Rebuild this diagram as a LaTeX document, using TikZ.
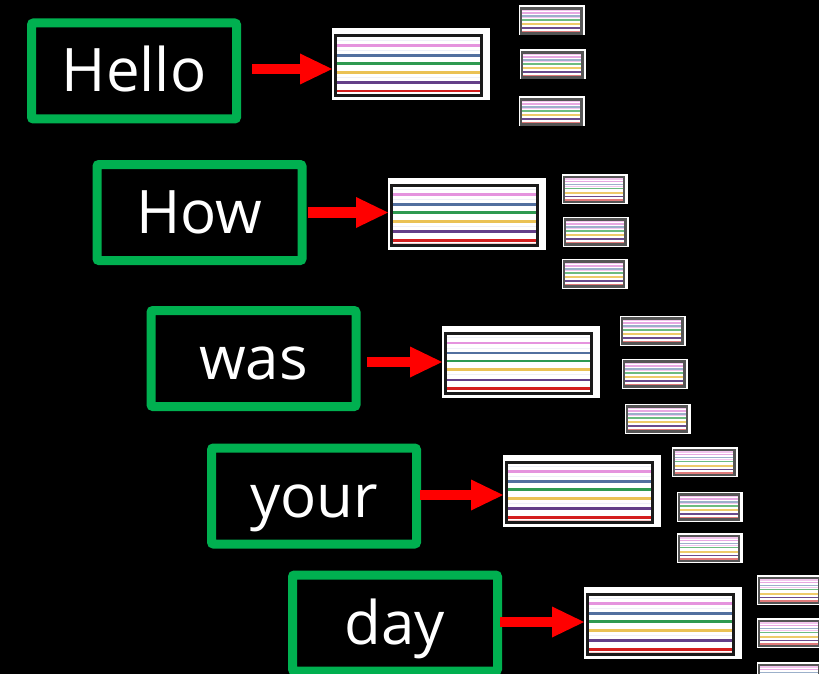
\documentclass[tikz,border=0pt]{standalone}
\usepackage{fontspec}
\setmainfont{Open Sans}
\usetikzlibrary{arrows.meta,calc}
\definecolor{boxgreen}{HTML}{00B050}
\definecolor{cpink}{HTML}{E594DE}
\definecolor{cblue}{HTML}{52709F}
\definecolor{cgreen}{HTML}{2E9A50}
\definecolor{cyellow}{HTML}{EAC255}
\definecolor{cpurple}{HTML}{643F88}
\definecolor{cred}{HTML}{D41E1E}
\definecolor{cfaint}{HTML}{F4C8C8}
\definecolor{cfaintb}{HTML}{EEF0F8}
\definecolor{spinkl}{HTML}{F3C6EE}
\definecolor{spink}{HTML}{E8A8E2}
\definecolor{sbluel}{HTML}{9CB0CA}
\definecolor{sgreen}{HTML}{6DBB80}
\definecolor{syellow}{HTML}{EECB6A}
\definecolor{spurple}{HTML}{6A4A8C}
\definecolor{ssalmon}{HTML}{E07A7A}
\definecolor{cardline}{HTML}{1A1A1A}
\definecolor{smallline}{HTML}{555555}
\tikzset{
  wordbox/.style={draw=boxgreen, line width=9pt, rounded corners=2pt,
    minimum width=205pt, minimum height=96pt, inner sep=0pt,
    text height=42pt, text depth=0pt, text=white, font=\fontsize{60}{60}\selectfont},
  bigcard/.style={fill=white, minimum width=158pt, minimum height=72pt, inner sep=0pt, outer sep=0pt},
  smallcard/.style={fill=white, minimum width=66pt, minimum height=30pt, inner sep=0pt, outer sep=0pt},
  cardborder/.style={draw=cardline, line width=3pt},
  smallborder/.style={draw=smallline, line width=2.2pt},
  redarrow/.style={draw=red, line width=10.5pt, -{Triangle[length=32pt,width=31pt,line width=0pt]}}
}
\newcommand\stripebig[1]{%
  \foreach \f/\c/\w in {0.09/cfaintb/1.2, 0.175/cpink/2.8, 0.26/cfaintb/1.2, 0.33/cblue/2.5, 0.46/cgreen/2.5, 0.6/cyellow/3.2, 0.68/cfaintb/1.2, 0.76/cpurple/2.6, 0.9/cred/2.6, 0.96/cfaint/1.5}
    \draw[draw=\c, line width=\w pt] ($(#1.north west)+(3,6+\f*63)$) -- ($(#1.north east)+(-8.5,6+\f*63)$);
  \draw[cardborder] ($(#1.north west)+(3,7.5)$) rectangle ($(#1.south east)+(-8.5,-4.5)$);
}
\newcommand\stripesmall[1]{%
  \foreach \f/\c/\w in {0.1/spinkl/1.4, 0.2/spink/1.4, 0.31/sbluel/1.4, 0.38/spinkl/1, 0.47/sgreen/1.5, 0.62/syellow/1.9, 0.76/spurple/1.3, 0.92/ssalmon/2.7}
    \draw[draw=\c, line width=\w pt] ($(#1.north west)+(2.3,2.3+\f*26.4)$) -- ($(#1.north east)+(-3.5,2.3+\f*26.4)$);
  \draw[smallborder] ($(#1.north west)+(2.3,3)$) rectangle ($(#1.south east)+(-3.5,-2)$);
}
\begin{document}
\begin{tikzpicture}[x=1pt,y=-1pt]
\fill[black] (0,0) rectangle (819,674);
\useasboundingbox (0,0) rectangle (819,674);
\clip (0,0) rectangle (819,674);
% word boxes
\node[wordbox] (w1) at (134,71) {Hello};
\node[wordbox] (w2) at (199.5,212.5) {How};
\node[wordbox] (w3) at (253.5,358.5) {was};
\node[wordbox] (w4) at (314,496) {your};
\node[wordbox] (w5) at (395,623) {day};
% big cards
\node[bigcard] (b1) at (411,64.5) {};
\node[bigcard] (b2) at (467,213.5) {};
\node[bigcard] (b3) at (521,362) {};
\node[bigcard] (b4) at (582,490.5) {};
\node[bigcard] (b5) at (663,622.5) {};
\stripebig{b1}\stripebig{b2}\stripebig{b3}\stripebig{b4}\stripebig{b5}
% small cards
\node[smallcard] (s11) at (552,20.5) {};
\node[smallcard] (s12) at (553,64.5) {};
\node[smallcard] (s13) at (552,111.5) {};
\node[smallcard] (s21) at (594.5,189) {};
\node[smallcard] (s22) at (596,231.5) {};
\node[smallcard] (s23) at (594.5,273.5) {};
\node[smallcard] (s31) at (653,330.5) {};
\node[smallcard] (s32) at (655,373.5) {};
\node[smallcard] (s33) at (657.5,418.5) {};
\node[smallcard] (s41) at (705,462) {};
\node[smallcard] (s42) at (709.5,506.5) {};
\node[smallcard] (s43) at (709.5,548) {};
\node[smallcard] (s51) at (790,590) {};
\node[smallcard] (s52) at (790,633) {};
\node[smallcard] (s53) at (790,677) {};
\foreach \n in {s11,s12,s13,s21,s22,s23,s31,s32,s33,s41,s42,s43,s51,s52,s53} {\stripesmall{\n}}
% arrows
\coordinate (a1) at (252,69);
\coordinate (a2) at (308,212.5);
\coordinate (a3) at (367,362);
\coordinate (a4) at (420,495);
\coordinate (a5) at (500,622);
\draw[redarrow] (a1) -- (a1 -| b1.west);
\draw[redarrow] (a2) -- (a2 -| b2.west);
\draw[redarrow] (a3) -- (a3 -| b3.west);
\draw[redarrow] (a4) -- (a4 -| b4.west);
\draw[redarrow] (a5) -- (a5 -| b5.west);
\end{tikzpicture}
\end{document}
